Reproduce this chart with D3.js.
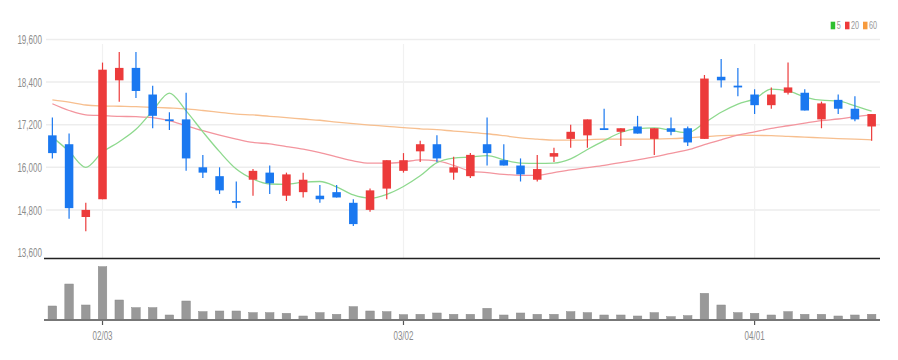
<!DOCTYPE html>
<html><head><meta charset="utf-8">
<script src="https://cdn.jsdelivr.net/npm/d3@7"></script>
<style>html,body{margin:0;padding:0;background:#fff;} svg{display:block;}</style>
</head><body><svg id="chart" width="898" height="360"></svg>
<script>
const dates = ["01/26","01/27","01/28","02/03","02/04","02/07","02/08","02/09","02/10","02/11",
  "02/14","02/15","02/16","02/17","02/18","02/21","02/22","02/23","02/24","02/25",
  "02/28","03/02","03/03","03/04","03/07","03/08","03/10","03/11","03/14","03/15",
  "03/16","03/17","03/18","03/21","03/22","03/23","03/24","03/25","03/28","03/29",
  "03/30","03/31","04/01","04/04","04/05","04/06","04/07","04/08","04/11","04/12"];
const opens  = [16900,16650,14600,15100,18450,18800,18050,17350,17350,16000,15750,15050,15650,15850,15200,15300,15200,15300,15000,14800,
  15400,15900,16450,16650,15850,15750,16650,16200,16050,15650,16300,16800,16900,17100,17000,17150,16800,17100,17100,16800,
  18550,18300,18050,17750,18100,18100,17350,17900,17650,17150];
const highs  = [17400,16950,15000,18950,19250,19250,18300,17550,18100,16350,16000,15600,15950,16050,15850,15850,15500,15500,15100,15400,
  16200,16400,16750,16900,16300,16400,17400,16650,16250,16350,16550,17200,17350,17650,17100,17450,17100,17400,17150,18600,
  19050,18800,18200,18250,18950,18200,17850,18050,18000,17500];
const lows   = [16250,14550,14200,15100,17850,17950,17100,17050,15900,15700,15250,14850,15200,15250,15050,15150,15000,15150,14350,14750,
  15100,15850,16150,16150,15650,15700,16050,16050,15600,15600,16150,16550,16550,17050,16600,16950,16350,16900,16600,16800,
  18250,18000,17500,17650,18050,17600,17100,17500,17300,16750];
const closes = [16400,14850,14800,18750,18800,18150,17450,17300,16250,15850,15350,15000,15900,15550,15800,15650,15100,15150,14400,15350,
  16200,16200,16650,16250,16000,16350,16400,16050,15800,15950,16400,17000,17350,17050,17100,16950,17100,17000,16700,18500,
  18450,18250,17750,18050,18250,17600,17800,17650,17350,17500];
const volumes = [420000,1080000,450000,1600000,600000,370000,370000,150000,570000,250000,270000,270000,220000,220000,200000,120000,220000,170000,400000,270000,
  250000,160000,170000,210000,170000,170000,350000,150000,210000,170000,170000,250000,220000,150000,150000,120000,220000,100000,130000,800000,
  450000,220000,200000,150000,250000,170000,170000,120000,150000,170000];
const ma5  = [16850,16450,16000,16430,16720,17070,17590,18090,17590,17000,16440,15950,15670,15530,15520,15580,15600,15450,15220,15130,
  15240,15460,15760,16130,16260,16290,16330,16210,16120,16110,16120,16240,16500,16750,16980,17090,17110,17040,16970,17250,
  17550,17780,17930,18200,18150,17980,17890,17870,17730,17580];
const ma20 = [17790,17600,17475,17455,17435,17425,17400,17315,17170,17030,16905,16795,16700,16660,16585,16510,16415,16295,16180,16115,
  16115,16150,16210,16180,16055,15895,15850,15800,15775,15775,15850,15925,15990,16055,16130,16210,16295,16395,16490,16640,
  16775,16905,17000,17095,17170,17245,17315,17360,17425,17475];
const ma60 = [17900,17835,17755,17730,17720,17710,17690,17670,17645,17600,17550,17500,17475,17435,17400,17360,17325,17275,17230,17190,
  17155,17115,17085,17060,17020,16985,16945,16890,16830,16795,16765,16765,16775,16795,16795,16795,16795,16805,16830,16860,
  16890,16905,16900,16890,16870,16850,16830,16810,16795,16775];
const yTicks = [13600,14800,16000,17200,18400,19600];
const xTicks = ["02/03","03/02","04/01"];
const legendLabels = ["5","20","60"];

const UP = "#ec3b3b", DOWN = "#1a78f0";
const maColors = ["#8ed98e","#f3959e","#f7bf8f"];
const legendColors = ["#2fbf2f","#ee3a3a","#f79a3c"];
const FONT = "'Liberation Sans', Arial, sans-serif";

const data = dates.map((d,i)=>({d, o:opens[i], h:highs[i], l:lows[i], c:closes[i], v:volumes[i]}));
const svg = d3.select("#chart");
const x = d3.scaleBand().domain(dates).range([44,880]);
const cx = d => x(d) + x.bandwidth()/2;
const bw = x.bandwidth()*0.51;
const y = d3.scaleLinear().domain([13600,19600]).range([252.5,39.5]);
const yv = d3.scaleLinear().domain([0,d3.max(volumes)]).range([320,266.7]);

// horizontal grid
svg.append("g").selectAll("line").data(yTicks.filter(v=>v>yTicks[0])).join("line")
  .attr("x1",46).attr("x2",880).attr("y1",d=>y(d)).attr("y2",d=>y(d))
  .attr("stroke","#ededed").attr("stroke-width",1.5);
// vertical grid
svg.append("g").selectAll("line").data(xTicks).join("line")
  .attr("x1",d=>cx(d)).attr("x2",d=>cx(d)).attr("y1",44).attr("y2",258)
  .attr("stroke","#f1f1f1").attr("stroke-width",1.2);

// y axis
const ya = svg.append("g").attr("transform","translate(42,0)")
  .call(d3.axisLeft(y).tickValues(yTicks).tickFormat(d3.format(",")).tickSize(0).tickPadding(0));
ya.select(".domain").remove();
ya.selectAll("text").attr("fill","#8c8c8c").attr("font-size",13).attr("font-family",FONT)
  .attr("x",0).attr("transform","scale(0.62,1)");

// MA lines
const line = arr => d3.line().x((v,i)=>cx(dates[i])).y(v=>y(v)).curve(d3.curveMonotoneX)(arr);
[ma60, ma20, ma5].forEach((arr,k)=>{
  svg.append("path").attr("d",line(arr)).attr("fill","none")
    .attr("stroke",maColors[2-k]).attr("stroke-width",1.3);
});

// candles
const cg = svg.append("g").selectAll("g").data(data).join("g");
cg.append("line").attr("x1",d=>cx(d.d)).attr("x2",d=>cx(d.d))
  .attr("y1",d=>y(d.h)).attr("y2",d=>y(d.l))
  .attr("stroke",d=>d.c>d.o?UP:DOWN).attr("stroke-width",1.2);
cg.append("rect").attr("x",d=>cx(d.d)-bw/2).attr("width",bw)
  .attr("y",d=>y(Math.max(d.o,d.c)))
  .attr("height",d=>Math.max(1.6, Math.abs(y(d.o)-y(d.c))))
  .attr("fill",d=>d.c>d.o?UP:DOWN);

// separator line
svg.append("line").attr("x1",44).attr("x2",880).attr("y1",258.5).attr("y2",258.5)
  .attr("stroke","#222").attr("stroke-width",1.5);

// volume bars
svg.append("g").selectAll("rect").data(data).join("rect")
  .attr("x",d=>cx(d.d)-bw/2).attr("width",bw)
  .attr("y",d=>yv(d.v)).attr("height",d=>yv(0)-yv(d.v))
  .attr("fill","#999").attr("stroke","#8a8a8a").attr("stroke-width",0.5);

// x axis
const xa = svg.append("g").attr("transform","translate(0,320)")
  .call(d3.axisBottom(x).tickValues(xTicks).tickSize(5).tickPadding(6));
xa.select(".domain").remove();
xa.selectAll(".tick line").attr("stroke","#555").attr("stroke-width",1.2);
xa.selectAll("text").attr("fill","#8c8c8c").attr("font-size",12.5).attr("font-family",FONT)
  .attr("transform","scale(0.64,1)");
svg.append("line").attr("x1",44).attr("x2",880).attr("y1",320).attr("y2",320)
  .attr("stroke","#777").attr("stroke-width",2);

// legend
const lgX = [830.7, 845, 863];
const lg = svg.append("g");
legendLabels.forEach((lab,i)=>{
  lg.append("rect").attr("x",lgX[i]).attr("y",21.7).attr("width",4.5).attr("height",7.6).attr("fill",legendColors[i]);
  lg.append("g").attr("transform",`translate(${lgX[i]+6},29.4) scale(0.66,1)`)
    .append("text").text(lab).attr("font-size",11).attr("font-family",FONT).attr("fill","#999");
});
</script></body></html>
